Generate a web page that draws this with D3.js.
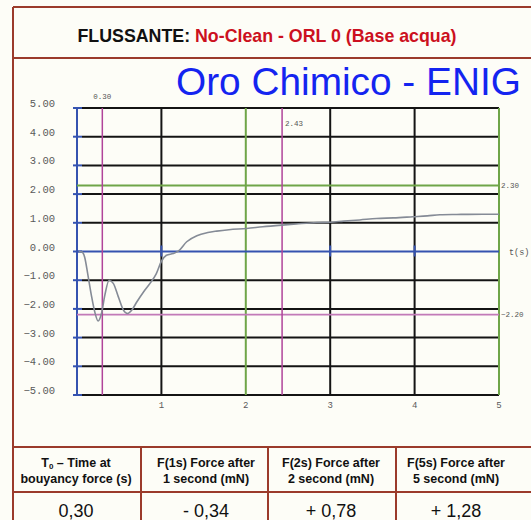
<!DOCTYPE html>
<html>
<head>
<meta charset="utf-8">
<script src="https://cdn.jsdelivr.net/npm/d3@7"></script>
<style>
  html, body { margin: 0; padding: 0; background: #fdfdf7; }
  svg { display: block; }
</style>
</head>
<body>
<svg id="chart" width="531" height="520"></svg>
<script>
// ---- data ----
const timeS   = [0.02, 0.06, 0.09, 0.13, 0.17, 0.21, 0.25, 0.29, 0.33, 0.38, 0.43, 0.49, 0.55, 0.60, 0.65, 0.71, 0.79, 0.865, 0.94, 1.0, 1.06, 1.14, 1.2, 1.3, 1.42, 1.55, 1.655, 1.8, 2.01, 2.2, 2.43, 2.6, 2.84, 3.0, 3.16, 3.35, 3.55, 3.75, 3.98, 4.15, 4.30, 4.5, 4.81, 5.0];
const forceMN = [0.0, -0.02, -0.19, -0.83, -1.52, -2.1, -2.42, -2.16, -1.52, -1.0, -1.11, -1.58, -2.04, -2.16, -2.04, -1.75, -1.40, -1.11, -0.77, -0.34, -0.13, -0.07, 0.01, 0.34, 0.55, 0.66, 0.71, 0.76, 0.80, 0.86, 0.92, 0.96, 1.01, 1.02, 1.06, 1.10, 1.15, 1.17, 1.21, 1.24, 1.28, 1.29, 1.30, 1.30];
const yTicks = [5, 4, 3, 2, 1, 0, -1, -2, -3, -4, -5];
const xTicks = [1, 2, 3, 4, 5];
const markerTimes  = [0.30, 2.43];
const markerForces = [2.30, -2.20];
const titleBlack = "FLUSSANTE: ";
const titleRed   = "No-Clean - ORL 0 (Base acqua)";
const subtitle   = "Oro Chimico - ENIG";
const tableHead1 = ["Time at", "F(1s) Force after", "F(2s) Force after", "F(5s) Force after"];
const tableHead2 = ["bouyancy force (s)", "1 second (mN)", "2 second (mN)", "5 second (mN)"];
const tableValues = ["0,30", "- 0,34", "+ 0,78", "+ 1,28"];

// ---- setup ----
const svg = d3.select("#chart");
const x = d3.scaleLinear().domain([0, 5]).range([77, 499]);
const y = d3.scaleLinear().domain([-5, 5]).range([395, 108]);

const BLACK = "#141414", BLUE = "#3553b0", GREEN = "#6fa548", MAG = "#b0449a", MAGH = "#c27ab8";
const BROWN = "#9b3b2b";
const MONO = "'Liberation Mono', 'DejaVu Sans Mono', monospace";
const SANS = "'Liberation Sans', Arial, sans-serif";

svg.append("rect").attr("width", 531).attr("height", 520).attr("fill", "#fdfdf7");

// ---- frame ----
const frame = svg.append("g").attr("stroke", BROWN).attr("stroke-width", 2).attr("fill", "none");
frame.append("line").attr("x1", 13).attr("x2", 540).attr("y1", 7).attr("y2", 7);
frame.append("line").attr("x1", 13).attr("x2", 13).attr("y1", 7).attr("y2", 521);
frame.append("line").attr("x1", 13).attr("x2", 540).attr("y1", 58).attr("y2", 58);
frame.append("line").attr("x1", 13).attr("x2", 540).attr("y1", 447).attr("y2", 447);
frame.append("line").attr("x1", 13).attr("x2", 540).attr("y1", 492).attr("y2", 492);
[141, 268, 396].forEach(cx => frame.append("line").attr("x1", cx).attr("x2", cx).attr("y1", 447).attr("y2", 521));

// ---- titles ----
const t1 = svg.append("text").attr("x", 267).attr("y", 42).attr("text-anchor", "middle")
  .attr("font-family", SANS).attr("font-weight", "bold").attr("font-size", 17.8);
t1.append("tspan").attr("fill", "#111").text(titleBlack);
t1.append("tspan").attr("fill", "#cc1020").text(titleRed);

svg.append("text").attr("x", 176).attr("y", 95).attr("font-family", SANS)
  .attr("font-size", 38.8).attr("fill", "#1424f0").text(subtitle);

// ---- grid ----
const g = svg.append("g");
yTicks.filter(v => v !== 0).forEach(v => {
  g.append("line").attr("x1", x(0) + 5).attr("x2", x(5)).attr("y1", y(v)).attr("y2", y(v))
    .attr("stroke", BLACK).attr("stroke-width", 2);
});
xTicks.forEach(t => {
  const col = (t === 2 || t === 5) ? GREEN : BLACK;
  g.append("line").attr("x1", x(t)).attr("x2", x(t)).attr("y1", y(5)).attr("y2", y(-5))
    .attr("stroke", col).attr("stroke-width", 2);
});
[1, 3, 4].forEach(t => {
  g.append("line").attr("x1", x(t)).attr("x2", x(t)).attr("y1", y(0) - 6).attr("y2", y(0) + 5)
    .attr("stroke", BLUE).attr("stroke-width", 2);
});
g.append("line").attr("x1", x(0)).attr("x2", x(5)).attr("y1", y(0)).attr("y2", y(0))
  .attr("stroke", BLUE).attr("stroke-width", 1.8);
g.append("line").attr("x1", x(0)).attr("x2", x(0)).attr("y1", y(5)).attr("y2", y(-5))
  .attr("stroke", BLUE).attr("stroke-width", 2);
yTicks.forEach(v => {
  g.append("line").attr("x1", x(0) - 4).attr("x2", x(0) + 5).attr("y1", y(v)).attr("y2", y(v))
    .attr("stroke", BLUE).attr("stroke-width", 2);
});

markerForces.forEach((v, i) => {
  g.append("line").attr("x1", x(0)).attr("x2", x(5)).attr("y1", y(v)).attr("y2", y(v))
    .attr("stroke", i === 0 ? GREEN : MAGH).attr("stroke-width", 1.8);
});
markerTimes.forEach(t => {
  g.append("line").attr("x1", x(t)).attr("x2", x(t)).attr("y1", y(5)).attr("y2", y(-5))
    .attr("stroke", MAG).attr("stroke-width", 1.5);
});

// ---- curve ----
const pts = timeS.map((t, i) => [t, forceMN[i]]);
svg.append("path").datum(pts)
  .attr("d", d3.line().x(d => x(d[0])).y(d => y(d[1])).curve(d3.curveMonotoneX))
  .attr("fill", "none").attr("stroke", "#858b96").attr("stroke-width", 1.6);

// ---- labels ----
const fmt = d3.format(".2f");
yTicks.forEach(v => {
  svg.append("text").attr("x", 55).attr("y", y(v) - 1).attr("text-anchor", "end")
    .attr("font-family", MONO).attr("font-size", 10.5).attr("fill", "#5a5a5a")
    .text(fmt(v));
});
xTicks.forEach(t => {
  svg.append("text").attr("x", x(t)).attr("y", 408).attr("text-anchor", "middle")
    .attr("font-family", MONO).attr("font-size", 9).attr("fill", "#5a5a5a").text(t);
});
svg.append("text").attr("x", x(markerTimes[0])).attr("y", 99).attr("text-anchor", "middle")
  .attr("font-family", MONO).attr("font-size", 7.5).attr("fill", "#555").text(fmt(markerTimes[0]));
svg.append("text").attr("x", x(markerTimes[1]) + 3).attr("y", 126)
  .attr("font-family", MONO).attr("font-size", 7.5).attr("fill", "#555").text(fmt(markerTimes[1]));
markerForces.forEach(v => {
  svg.append("text").attr("x", x(5) + 2).attr("y", y(v) + 2.5)
    .attr("font-family", MONO).attr("font-size", 7.5).attr("fill", "#555").text(fmt(v));
});
svg.append("text").attr("x", 509).attr("y", y(0) + 3).attr("font-family", MONO)
  .attr("font-size", 8.5).attr("fill", "#555").text("t(s)");

// ---- table ----
const colCenters = [76, 206, 331, 456];
colCenters.forEach((cx, i) => {
  const h1 = svg.append("text").attr("x", cx).attr("y", 467).attr("text-anchor", "middle")
    .attr("font-family", SANS).attr("font-weight", "bold").attr("font-size", 12.5).attr("fill", "#111");
  if (i === 0) {
    h1.append("tspan").text("T");
    h1.append("tspan").attr("font-size", 8).attr("dy", 2).text("0");
    h1.append("tspan").attr("dy", -2).text("  \u2013 " + tableHead1[i]);
  } else {
    h1.text(tableHead1[i]);
  }
  svg.append("text").attr("x", cx).attr("y", 483).attr("text-anchor", "middle")
    .attr("font-family", SANS).attr("font-weight", "bold").attr("font-size", 12.5).attr("fill", "#111")
    .text(tableHead2[i]);
  svg.append("text").attr("x", cx).attr("y", 517).attr("text-anchor", "middle")
    .attr("font-family", SANS).attr("font-size", 18).attr("fill", "#111")
    .text(tableValues[i]);
});
</script>
</body>
</html>
